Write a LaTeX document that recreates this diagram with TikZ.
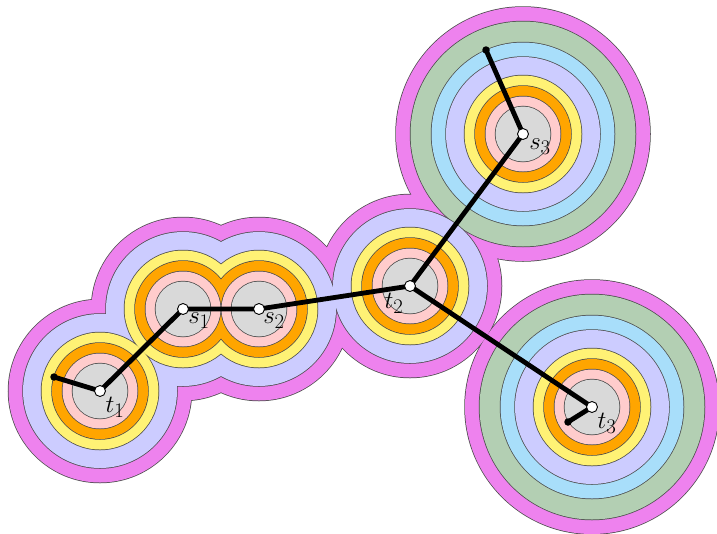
\documentclass[tikz,border=0pt]{standalone}
\usetikzlibrary{calc}
\definecolor{cgray}{RGB}{217,217,217}
\definecolor{cpink}{RGB}{255,204,204}
\definecolor{corange}{RGB}{255,165,0}
\definecolor{cyellow}{RGB}{255,242,117}
\definecolor{clav}{RGB}{204,204,255}
\definecolor{cblue}{RGB}{168,222,250}
\definecolor{cgreen}{RGB}{179,207,179}
\definecolor{cmag}{RGB}{238,130,238}
\newcommand\moatlayer[2]{%
  \foreach \c/\r in {#2} {\draw[ring] (\c) circle[radius=\r pt];}
  \foreach \c/\r in {#2} {\fill[#1] (\c) circle[radius=\r pt];}
}
\begin{document}
\begin{tikzpicture}[x=1pt,y=-1pt,
  ring/.style={draw=black!70, line width=1.5pt},
  edge/.style={line width=4.8pt, line cap=round, line join=round},
  vtx/.style={circle, draw=black, fill=white, line width=0.9pt, minimum size=11pt, inner sep=0pt},
  enddot/.style={circle, fill=black, minimum size=7.5pt, inner sep=0pt},
  lbl/.style={font=\Huge, inner sep=0pt}]
\useasboundingbox (0,0) rectangle (717,533);
\clip (0,0) rectangle (717,533);
\coordinate (t1) at (100,391);
\coordinate (s1) at (183,309);
\coordinate (s2) at (259,309);
\coordinate (t2) at (410,286);
\coordinate (s3) at (523,134);
\coordinate (t3) at (592,407);
\coordinate (e1) at (54,377);
\coordinate (e3) at (486,50);
\coordinate (e4) at (568,422);
% moats, outermost first
\moatlayer{cmag}{t1/91.5, s1/91.5, s2/91.5, t2/91.5, s3/127, t3/127}
\moatlayer{cgreen}{s3/112.5, t3/112.5}
\moatlayer{cblue}{s3/91.5, t3/91.5}
\moatlayer{clav}{t1/77, s1/77, s2/77, t2/77, s3/77, t3/77}
\moatlayer{cyellow}{t1/58.5, s1/58.5, s2/58.5, t2/58.5, s3/58.5, t3/58.5}
\moatlayer{corange}{t1/48, s1/48, s2/48, t2/48, s3/48, t3/48}
\moatlayer{cpink}{t1/37.5, s1/37.5, s2/37.5, t2/37.5, s3/37.5, t3/37.5}
\moatlayer{cgray}{t1/27.5, s1/27.5, s2/27.5, t2/27.5, s3/27.5, t3/27.5}
% tree edges
\draw[edge] (e1) -- (t1) -- (s1) -- (s2) -- (t2) -- (s3) -- (e3);
\draw[edge] (t2) -- (t3) -- (e4);
% free ends
\node[enddot] (d1) at (e1) {};
\node[enddot] (d3) at (e3) {};
\node[enddot] (d4) at (e4) {};
% terminals
\node[vtx] (t1n) at (t1) {};
\node[vtx] (s1n) at (s1) {};
\node[vtx] (s2n) at (s2) {};
\node[vtx] (t2n) at (t2) {};
\node[vtx] (s3n) at (s3) {};
\node[vtx] (t3n) at (t3) {};
% labels
\node[lbl] (t1l) at ($(t1)+(15,16)$) {$t_1$};
\node[lbl] (s1l) at ($(s1)+(16,12)$) {$s_1$};
\node[lbl] (s2l) at ($(s2)+(15,12)$) {$s_2$};
\node[lbl] (t2l) at ($(t2)+(-16,17)$) {$t_2$};
\node[lbl] (s3l) at ($(s3)+(17,13)$) {$s_3$};
\node[lbl] (t3l) at ($(t3)+(15,16)$) {$t_3$};
\end{tikzpicture}
\end{document}
